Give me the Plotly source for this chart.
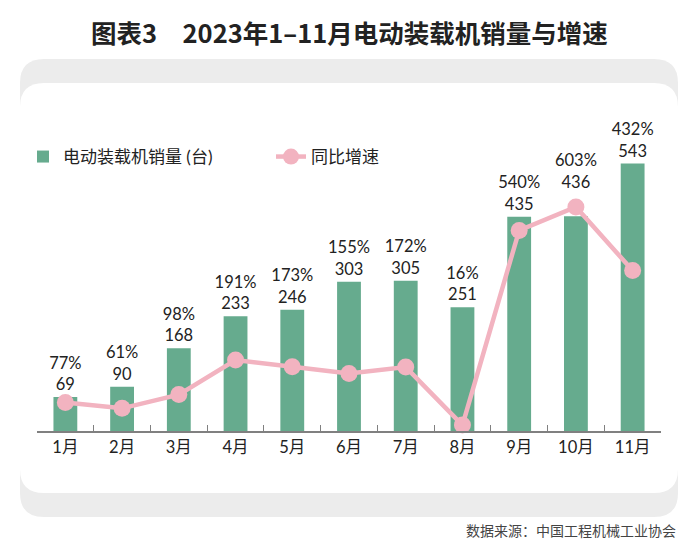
import plotly.graph_objects as go

months = ["1月", "2月", "3月", "4月", "5月", "6月", "7月", "8月", "9月", "10月", "11月"]
sales = [69, 90, 168, 233, 246, 303, 305, 251, 435, 436, 543]
growth = [77, 61, 98, 191, 173, 155, 172, 16, 540, 603, 432]
# labels lifted one line to clear the growth marker (as in the original)
lifted = ["10月"]

GREEN = "#66ab8e"
PINK = "#f2b3c0"
FONT = "Lato, 'Noto Sans CJK SC', sans-serif"
CJK = "'Noto Sans CJK SC', sans-serif"

# page has an 8px body margin: figure is shrunk so it fits the window exactly
OFF = 8
FW, FH = 700 - 2 * OFF, 555 - 2 * OFF

# plot area in reference (window) pixels
L, R, T, B = 37, 661, 100, 431
W, H = R - L, B - T


def px(x):
    return (x - L) / W


def py(y):
    return (B - y) / H


def rounded(x0, y0, x1, y1, r):
    pts = [
        ("M", x0 + r, y0), ("L", x1 - r, y0), ("Q", x1, y0, x1, y0 + r),
        ("L", x1, y1 - r), ("Q", x1, y1, x1 - r, y1), ("L", x0 + r, y1),
        ("Q", x0, y1, x0, y1 - r), ("L", x0, y0 + r), ("Q", x0, y0, x0 + r, y0),
    ]
    s = ""
    for p in pts:
        coords = p[1:]
        parts = [f"{px(coords[i]):.5f},{py(coords[i+1]):.5f}" for i in range(0, len(coords), 2)]
        s += p[0] + " " + " ".join(parts) + " "
    return s + "Z"


labels = [f"{g}%<br>{s}" + ("<br> " if m in lifted else "")
          for m, g, s in zip(months, growth, sales)]

fig = go.Figure()
fig.add_trace(go.Bar(
    x=months, y=sales, name="电动装载机销量 (台)",
    marker=dict(color=GREEN, line=dict(width=0)),
    width=0.42,
    text=labels, textposition="outside", constraintext="none",
    textfont=dict(family=FONT, size=16.5, color="#222222"),
    cliponaxis=False, legend="legend",
))
fig.add_trace(go.Scatter(
    x=months, y=growth, name="同比增速", yaxis="y2",
    mode="lines+markers",
    line=dict(color=PINK, width=4.5),
    marker=dict(color=PINK, size=17),
    cliponaxis=False, legend="legend2",
))

leg_common = dict(
    orientation="h", yanchor="middle", xanchor="left",
    font=dict(family=FONT, size=17, color="#222222"),
    bgcolor="rgba(0,0,0,0)",
)

fig.update_layout(
    width=FW, height=FH,
    margin=dict(l=L - OFF, r=FW - (R - OFF), t=T - OFF, b=FH - (B - OFF), pad=0),
    paper_bgcolor="white", plot_bgcolor="rgba(0,0,0,0)",
    font=dict(family=FONT, color="#222222"),
    showlegend=True,
    legend=dict(x=px(23), y=py(157), **leg_common),
    legend2=dict(x=px(271), y=py(157), **leg_common),
    xaxis=dict(
        type="category", range=[-0.5, 10.5],
        showline=True, linecolor="#808080", linewidth=1.5,
        ticks="inside", tickson="boundaries", ticklen=6, tickcolor="#808080", tickwidth=1.2,
        tickfont=dict(family=FONT, size=16.5, color="#222222"),
        showgrid=False, zeroline=False, fixedrange=True,
    ),
    yaxis=dict(range=[0, 672], visible=False, showgrid=False, zeroline=False),
    yaxis2=dict(range=[0, 891], overlaying="y", visible=False, showgrid=False, zeroline=False),
    shapes=[
        dict(type="path", xref="paper", yref="paper", path=rounded(20, 59, 678, 517, 24),
             fillcolor="#ececec", line=dict(width=0), layer="below"),
        dict(type="path", xref="paper", yref="paper", path=rounded(20, 83, 678, 493, 24),
             fillcolor="#ffffff", line=dict(width=0), layer="below"),
    ],
    annotations=[
        dict(text="<b>图表3　2023年1–11月电动装载机销量与增速</b>", xref="paper", yref="paper",
             x=px(349), y=py(32), xanchor="center", yanchor="middle", showarrow=False,
             font=dict(family=CJK, size=25.5, color="#222222")),
        dict(text="数据来源：中国工程机械工业协会", xref="paper", yref="paper",
             x=px(678), y=py(530), xanchor="right", yanchor="middle", showarrow=False,
             font=dict(family=CJK, size=14, color="#444444")),
    ],
)

fig.write_html("out.html")
